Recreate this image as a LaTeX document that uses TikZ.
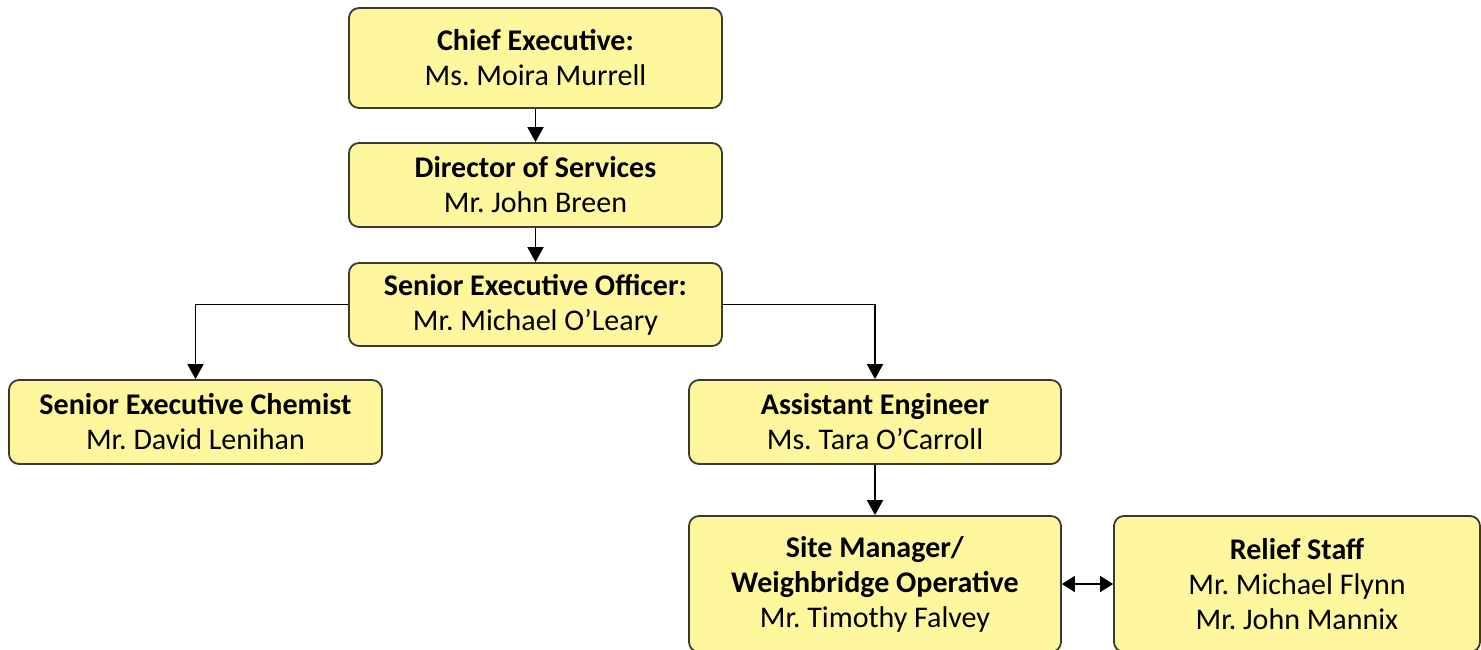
\documentclass[tikz,border=0pt]{standalone}
\usepackage{fontspec}
\setmainfont{Carlito}
\frenchspacing
\usetikzlibrary{arrows.meta}
\definecolor{boxfill}{HTML}{FFF79E}
\definecolor{boxline}{HTML}{3A3A30}
\tikzset{
  orgbox/.style={draw=boxline, line width=1.8pt, fill=boxfill, rounded corners=10pt, align=center, inner sep=0pt, font=\fontsize{30}{35}\selectfont},
  link/.style={line width=1.8pt, -{Triangle[length=15pt,width=16pt]}},
  dlink/.style={line width=1.8pt, {Triangle[length=13pt,width=16pt]}-{Triangle[length=13pt,width=16pt]}}
}
\begin{document}
\begin{tikzpicture}[x=1pt,y=-1pt]
\useasboundingbox (0,0) rectangle (1481,649);
\node[orgbox, minimum width=373pt, minimum height=100pt] (ce) at (535.5,58) {\textbf{Chief Executive:}\\Ms. Moira Murrell};
\node[orgbox, minimum width=373pt, minimum height=84pt] (ds) at (535.5,185) {\textbf{Director of Services}\\Mr. John Breen};
\node[orgbox, minimum width=373pt, minimum height=83pt] (seo) at (535.5,304.5) {\textbf{Senior Executive Officer:}\\Mr. Michael O’Leary};
\node[orgbox, minimum width=373pt, minimum height=84pt] (sec) at (195.5,422) {\textbf{Senior Executive Chemist}\\Mr. David Lenihan};
\node[orgbox, minimum width=372pt, minimum height=84pt] (ae) at (875,422) {\textbf{Assistant Engineer}\\Ms. Tara O’Carroll};
\node[orgbox, minimum width=372pt, minimum height=136pt] (sm) at (875,584) {\textbf{Site Manager/}\\\textbf{Weighbridge Operative}\\Mr. Timothy Falvey};
\node[orgbox, minimum width=366pt, minimum height=136pt] (rs) at (1297,584) {\textbf{Relief Staff}\\Mr. Michael Flynn\\Mr. John Mannix};
\draw[link] (ce) -- (ds);
\draw[link] (ds) -- (seo);
\draw[link] (seo.west) -| (sec.north);
\draw[link] (seo.east) -| (ae.north);
\draw[link] (ae) -- (sm);
\draw[dlink] (sm.east) -- (rs.west);
\end{tikzpicture}
\end{document}
